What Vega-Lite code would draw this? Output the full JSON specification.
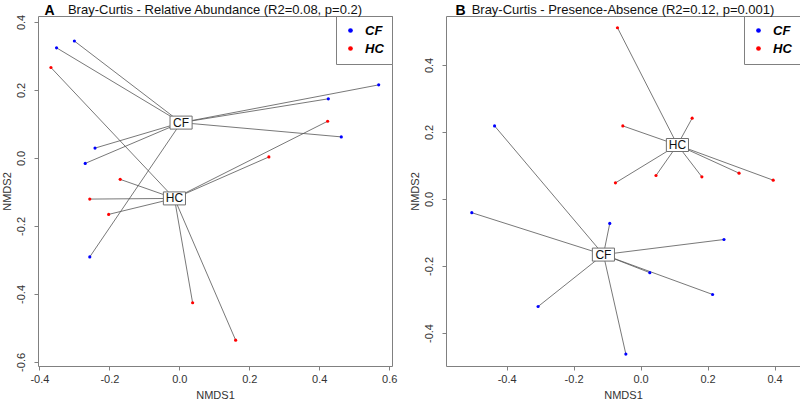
{
  "$schema": "https://vega.github.io/schema/vega-lite/v6.json",
  "background": "white",
  "padding": {"left": 0, "top": 2, "right": 0, "bottom": 0},
  "spacing": 54,
  "bounds": "flush",
  "config": {
    "font": "Liberation Sans",
    "view": {"stroke": "#808080", "strokeWidth": 1},
    "axis": {"domain": false, "grid": false, "tickColor": "#808080", "tickSize": 4, "labelFontSize": 11, "labelColor": "#333333", "titleFontSize": 11, "titleFontWeight": "normal", "titleColor": "#333333", "labelFlush": false, "labelOverlap": false},
    "title": {"font": "Liberation Sans"}
  },
  "datasets": {
    "leftPts": [
      {"group": "CF", "x": -0.300, "y": 0.344, "cx": 0.005, "cy": 0.104},
      {"group": "CF", "x": -0.351, "y": 0.324, "cx": 0.005, "cy": 0.104},
      {"group": "CF", "x": 0.570, "y": 0.215, "cx": 0.005, "cy": 0.104},
      {"group": "CF", "x": 0.426, "y": 0.174, "cx": 0.005, "cy": 0.104},
      {"group": "CF", "x": 0.463, "y": 0.062, "cx": 0.005, "cy": 0.104},
      {"group": "CF", "x": -0.241, "y": 0.029, "cx": 0.005, "cy": 0.104},
      {"group": "CF", "x": -0.269, "y": -0.016, "cx": 0.005, "cy": 0.104},
      {"group": "CF", "x": -0.256, "y": -0.291, "cx": 0.005, "cy": 0.104},
      {"group": "HC", "x": -0.367, "y": 0.266, "cx": -0.014, "cy": -0.119},
      {"group": "HC", "x": 0.424, "y": 0.108, "cx": -0.014, "cy": -0.119},
      {"group": "HC", "x": 0.256, "y": 0.003, "cx": -0.014, "cy": -0.119},
      {"group": "HC", "x": -0.169, "y": -0.063, "cx": -0.014, "cy": -0.119},
      {"group": "HC", "x": -0.256, "y": -0.121, "cx": -0.014, "cy": -0.119},
      {"group": "HC", "x": -0.202, "y": -0.166, "cx": -0.014, "cy": -0.119},
      {"group": "HC", "x": 0.038, "y": -0.426, "cx": -0.014, "cy": -0.119},
      {"group": "HC", "x": 0.161, "y": -0.536, "cx": -0.014, "cy": -0.119}
    ],
    "leftCent": [
      {"group": "CF", "x": 0.005, "y": 0.104},
      {"group": "HC", "x": -0.014, "y": -0.119}
    ],
    "rightPts": [
      {"group": "HC", "x": -0.069, "y": 0.511, "cx": 0.110, "cy": 0.161},
      {"group": "HC", "x": 0.154, "y": 0.241, "cx": 0.110, "cy": 0.161},
      {"group": "HC", "x": -0.053, "y": 0.218, "cx": 0.110, "cy": 0.161},
      {"group": "HC", "x": -0.075, "y": 0.048, "cx": 0.110, "cy": 0.161},
      {"group": "HC", "x": 0.046, "y": 0.070, "cx": 0.110, "cy": 0.161},
      {"group": "HC", "x": 0.183, "y": 0.066, "cx": 0.110, "cy": 0.161},
      {"group": "HC", "x": 0.294, "y": 0.077, "cx": 0.110, "cy": 0.161},
      {"group": "HC", "x": 0.396, "y": 0.056, "cx": 0.110, "cy": 0.161},
      {"group": "CF", "x": -0.436, "y": 0.218, "cx": -0.111, "cy": -0.166},
      {"group": "CF", "x": -0.504, "y": -0.041, "cx": -0.111, "cy": -0.166},
      {"group": "CF", "x": -0.092, "y": -0.073, "cx": -0.111, "cy": -0.166},
      {"group": "CF", "x": 0.249, "y": -0.121, "cx": -0.111, "cy": -0.166},
      {"group": "CF", "x": 0.0275, "y": -0.220, "cx": -0.111, "cy": -0.166},
      {"group": "CF", "x": 0.215, "y": -0.285, "cx": -0.111, "cy": -0.166},
      {"group": "CF", "x": -0.306, "y": -0.321, "cx": -0.111, "cy": -0.166},
      {"group": "CF", "x": -0.044, "y": -0.463, "cx": -0.111, "cy": -0.166}
    ],
    "rightCent": [
      {"group": "CF", "x": -0.111, "y": -0.166},
      {"group": "HC", "x": 0.110, "y": 0.161}
    ]
  },
  "resolve": {"legend": {"color": "independent"}},
  "hconcat": [
    {
      "width": 354,
      "height": 350,
      "title": {"text": "Bray-Curtis - Relative Abundance (R2=0.08, p=0.2)", "anchor": "middle", "fontSize": 13, "fontWeight": "normal", "color": "#111111", "offset": -24, "baseline": "alphabetic"},
      "resolve": {"axis": {"x": "independent"}},
      "encoding": {
        "y": {"field": "y", "type": "quantitative", "scale": {"domain": [-0.612, 0.4176], "nice": false, "zero": false},
          "axis": {"title": "NMDS2", "values": [-0.6, -0.4, -0.2, 0, 0.2, 0.4], "labelExpr": "replace(format(datum.value, '.1f'), '\u2212', '-')", "labelAngle": -90, "labelAlign": "center", "labelBaseline": "bottom", "labelPadding": 8, "titlePadding": 3}}
      },
      "layer": [
        {
          "data": {"name": "leftPts"},
          "mark": {"type": "rule", "color": "#555555", "strokeWidth": 0.8},
          "encoding": {
            "x": {"field": "x", "type": "quantitative", "scale": {"domain": [-0.404, 0.608], "nice": false, "zero": false},
              "axis": {"orient": "bottom", "title": "NMDS1", "values": [-0.4, -0.2, 0, 0.2, 0.4, 0.6], "labelExpr": "replace(format(datum.value, '.1f'), '\u2212', '-')", "labelPadding": 3, "titlePadding": 5}},
            "x2": {"field": "cx"}, "y2": {"field": "cy"}}
        },
        {
          "data": {"name": "leftPts"},
          "mark": {"type": "circle", "size": 10, "opacity": 1},
          "encoding": {
            "x": {"field": "x", "type": "quantitative", "axis": null},
            "color": {"field": "group", "type": "nominal", "scale": {"domain": ["CF", "HC"], "range": ["#0000FF", "#FF0000"]},
              "legend": {"orient": "top-right", "offset": 0, "title": null, "padding": 8, "rowPadding": 4, "labelOffset": 8, "strokeColor": "#808080", "fillColor": "white", "symbolSize": 22, "symbolType": "circle", "symbolStrokeWidth": 0, "symbolOpacity": 1, "labelFontSize": 13, "labelFontWeight": "bold", "labelFontStyle": "italic", "labelColor": "#000000"}}
          }
        },
        {
          "data": {"name": "leftCent"},
          "mark": {"type": "point", "shape": "M-1.7,-1L1.7,-1L1.7,1L-1.7,1Z", "size": 169, "filled": true, "fill": "white", "stroke": "#707070", "strokeWidth": 1, "opacity": 1},
          "encoding": {"x": {"field": "x", "type": "quantitative", "axis": null}}
        },
        {
          "data": {"name": "leftCent"},
          "mark": {"type": "text", "fontSize": 12, "color": "#111111", "align": "center", "baseline": "middle"},
          "encoding": {
            "x": {"field": "x", "type": "quantitative",
              "axis": {"orient": "top", "title": "A", "labels": false, "ticks": false, "domain": false, "grid": false, "titleAnchor": "start", "titleAlign": "left", "titleX": 6, "titleY": -2, "titleBaseline": "alphabetic", "titleFontSize": 14, "titleFontWeight": "bold", "titleColor": "#000000"}},
            "text": {"field": "group"}
          }
        }
      ]
    },
    {
      "width": 354,
      "height": 350,
      "title": {"text": "Bray-Curtis - Presence-Absence (R2=0.12, p=0.001)", "anchor": "middle", "fontSize": 13, "fontWeight": "normal", "color": "#111111", "offset": -24, "baseline": "alphabetic"},
      "resolve": {"axis": {"x": "independent"}},
      "encoding": {
        "y": {"field": "y", "type": "quantitative", "scale": {"domain": [-0.4985, 0.546], "nice": false, "zero": false},
          "axis": {"title": "NMDS2", "values": [-0.4, -0.2, 0, 0.2, 0.4], "labelExpr": "replace(format(datum.value, '.1f'), '\u2212', '-')", "labelAngle": -90, "labelAlign": "center", "labelBaseline": "bottom", "labelPadding": 8, "titlePadding": 3}}
      },
      "layer": [
        {
          "data": {"name": "rightPts"},
          "mark": {"type": "rule", "color": "#555555", "strokeWidth": 0.8},
          "encoding": {
            "x": {"field": "x", "type": "quantitative", "scale": {"domain": [-0.581, 0.476], "nice": false, "zero": false},
              "axis": {"orient": "bottom", "title": "NMDS1", "values": [-0.4, -0.2, 0, 0.2, 0.4], "labelExpr": "replace(format(datum.value, '.1f'), '\u2212', '-')", "labelPadding": 3, "titlePadding": 5}},
            "x2": {"field": "cx"}, "y2": {"field": "cy"}}
        },
        {
          "data": {"name": "rightPts"},
          "mark": {"type": "circle", "size": 10, "opacity": 1},
          "encoding": {
            "x": {"field": "x", "type": "quantitative", "axis": null},
            "color": {"field": "group", "type": "nominal", "scale": {"domain": ["CF", "HC"], "range": ["#0000FF", "#FF0000"]},
              "legend": {"orient": "top-right", "offset": 0, "title": null, "padding": 8, "rowPadding": 4, "labelOffset": 8, "strokeColor": "#808080", "fillColor": "white", "symbolSize": 22, "symbolType": "circle", "symbolStrokeWidth": 0, "symbolOpacity": 1, "labelFontSize": 13, "labelFontWeight": "bold", "labelFontStyle": "italic", "labelColor": "#000000"}}
          }
        },
        {
          "data": {"name": "rightCent"},
          "mark": {"type": "point", "shape": "M-1.7,-1L1.7,-1L1.7,1L-1.7,1Z", "size": 169, "filled": true, "fill": "white", "stroke": "#707070", "strokeWidth": 1, "opacity": 1},
          "encoding": {"x": {"field": "x", "type": "quantitative", "axis": null}}
        },
        {
          "data": {"name": "rightCent"},
          "mark": {"type": "text", "fontSize": 12, "color": "#111111", "align": "center", "baseline": "middle"},
          "encoding": {
            "x": {"field": "x", "type": "quantitative",
              "axis": {"orient": "top", "title": "B", "labels": false, "ticks": false, "domain": false, "grid": false, "titleAnchor": "start", "titleAlign": "left", "titleX": 9, "titleY": -2, "titleBaseline": "alphabetic", "titleFontSize": 14, "titleFontWeight": "bold", "titleColor": "#000000"}},
            "text": {"field": "group"}
          }
        }
      ]
    }
  ]
}
